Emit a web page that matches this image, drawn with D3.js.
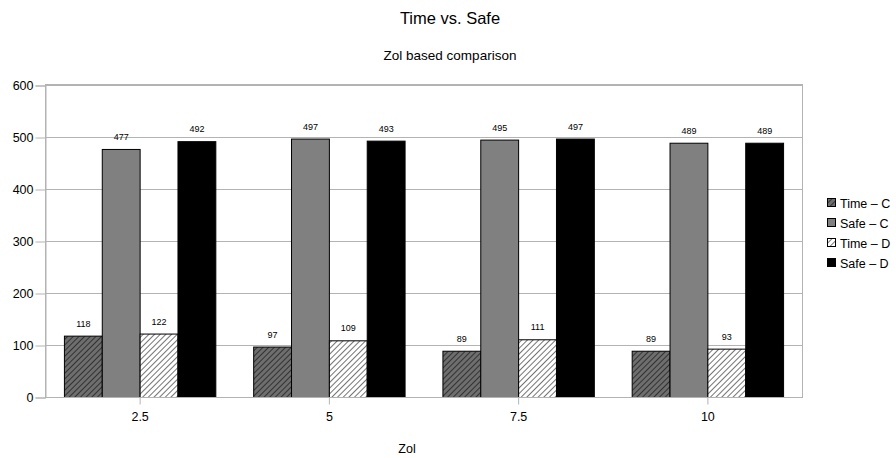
<!DOCTYPE html>
<html>
<head>
<meta charset="utf-8">
<script src="https://cdn.jsdelivr.net/npm/d3@7"></script>
<style>
  body { margin: 0; background: #fff; }
  svg { display: block; font-family: "Liberation Sans", Arial, sans-serif; }
</style>
</head>
<body>
<svg id="chart" width="896" height="458"></svg>
<script>
const categories = ["2.5", "5", "7.5", "10"];
const seriesNames = ["Time – C", "Safe – C", "Time – D", "Safe – D"];
const timeC = [118, 97, 89, 89];
const safeC = [477, 497, 495, 489];
const timeD = [122, 109, 111, 93];
const safeD = [492, 493, 497, 489];
const yTicks = [0, 100, 200, 300, 400, 500, 600];

const seriesValues = [timeC, safeC, timeD, safeD];
const seriesFills = ["url(#hatchDark)", "#808080", "url(#hatchLight)", "#000000"];

const svg = d3.select("#chart");
const plot = { left: 45, right: 802, top: 85, bottom: 397 };
const FONT = "Liberation Sans, Arial, sans-serif";

// patterns
const defs = svg.append("defs");
function hatch(id, bg) {
  const p = defs.append("pattern")
    .attr("id", id)
    .attr("patternUnits", "userSpaceOnUse")
    .attr("width", 4).attr("height", 4)
    .attr("patternTransform", "rotate(45)");
  p.append("rect").attr("width", 4).attr("height", 4).attr("fill", bg);
  p.append("line").attr("x1", 0).attr("y1", 0).attr("x2", 0).attr("y2", 4)
    .attr("stroke", "#000").attr("stroke-width", 1.1);
}
hatch("hatchDark", "#6e6e6e");
hatch("hatchLight", "#ffffff");

const x0 = d3.scaleBand().domain(categories).range([plot.left, plot.right]).paddingInner(0.2).paddingOuter(0.1);
const xc = d3.scaleBand().domain(categories).range([plot.left, plot.right]);
const x1 = d3.scaleBand().domain(d3.range(seriesNames.length)).range([0, x0.bandwidth()]);
const y = d3.scaleLinear().domain([0, 600]).range([plot.bottom, plot.top]);

// gridlines
svg.append("g").selectAll("line").data(yTicks).join("line")
  .attr("x1", plot.left).attr("x2", plot.right)
  .attr("y1", d => y(d) + 0.5).attr("y2", d => y(d) + 0.5)
  .attr("stroke", "#b3b3b3").attr("stroke-width", 1);

// plot frame
svg.append("rect")
  .attr("x", plot.left + 0.5).attr("y", plot.top + 0.5)
  .attr("width", plot.right - plot.left).attr("height", plot.bottom - plot.top)
  .attr("fill", "none").attr("stroke", "#b3b3b3").attr("stroke-width", 1);
svg.append("line")
  .attr("x1", plot.left).attr("x2", plot.right + 1)
  .attr("y1", plot.top).attr("y2", plot.top)
  .attr("stroke", "#b3b3b3").attr("stroke-width", 2);

// y axis
const yAxis = d3.axisLeft(y).tickValues(yTicks).tickSize(10).tickPadding(2);
const gy = svg.append("g").attr("transform", `translate(${plot.left + 0.5},0.5)`).call(yAxis);
gy.select(".domain").attr("stroke", "#b3b3b3");
gy.selectAll(".tick line").attr("stroke", "#b3b3b3");
gy.selectAll(".tick text").attr("font-size", 12.5).attr("fill", "#000").attr("font-family", FONT);

// bars
const groups = svg.append("g").selectAll("g").data(categories).join("g")
  .attr("transform", c => `translate(${x0(c)},0)`);
groups.selectAll("rect").data((c, i) => seriesValues.map((s, k) => ({ k, v: s[i] }))).join("rect")
  .attr("x", d => x1(d.k) + 0.5)
  .attr("y", d => y(d.v) + 0.5)
  .attr("width", x1.bandwidth())
  .attr("height", d => y(0) - y(d.v))
  .attr("fill", d => seriesFills[d.k])
  .attr("stroke", "#000").attr("stroke-width", 1);
groups.selectAll("text").data((c, i) => seriesValues.map((s, k) => ({ k, v: s[i] }))).join("text")
  .attr("x", d => x1(d.k) + x1.bandwidth() / 2 + 0.5)
  .attr("y", d => y(d.v) - 9)
  .attr("text-anchor", "middle")
  .attr("font-size", 9)
  .attr("fill", "#000")
  .text(d => d.v);

// x axis
const xAxis = d3.axisBottom(xc).tickSize(7).tickPadding(8);
const gx = svg.append("g").attr("transform", `translate(0.5,${plot.bottom + 0.5})`).call(xAxis);
gx.select(".domain").attr("stroke", "#b3b3b3").attr("d", `M${plot.left},0H${plot.right}`);
gx.selectAll(".tick line").attr("stroke", "#b3b3b3");
gx.selectAll(".tick text").attr("font-size", 12.5).attr("fill", "#000").attr("font-family", FONT);

// titles
svg.append("text").attr("x", 450).attr("y", 24).attr("text-anchor", "middle")
  .attr("font-size", 16.5).text("Time vs. Safe");
svg.append("text").attr("x", 450).attr("y", 60).attr("text-anchor", "middle")
  .attr("font-size", 13.5).text("Zol based comparison");
svg.append("text").attr("x", 407).attr("y", 453).attr("text-anchor", "middle")
  .attr("font-size", 12.5).text("Zol");

// legend
const legend = svg.append("g").selectAll("g").data(seriesNames).join("g")
  .attr("transform", (d, i) => `translate(827,${203 + i * 20})`);
legend.append("rect").attr("x", 0.5).attr("y", -4.5).attr("width", 8).attr("height", 8)
  .attr("fill", (d, i) => seriesFills[i]).attr("stroke", "#000").attr("stroke-width", 1);
legend.append("text").attr("x", 13).attr("y", 4.5).attr("font-size", 12.5).text(d => d);
</script>
</body>
</html>
